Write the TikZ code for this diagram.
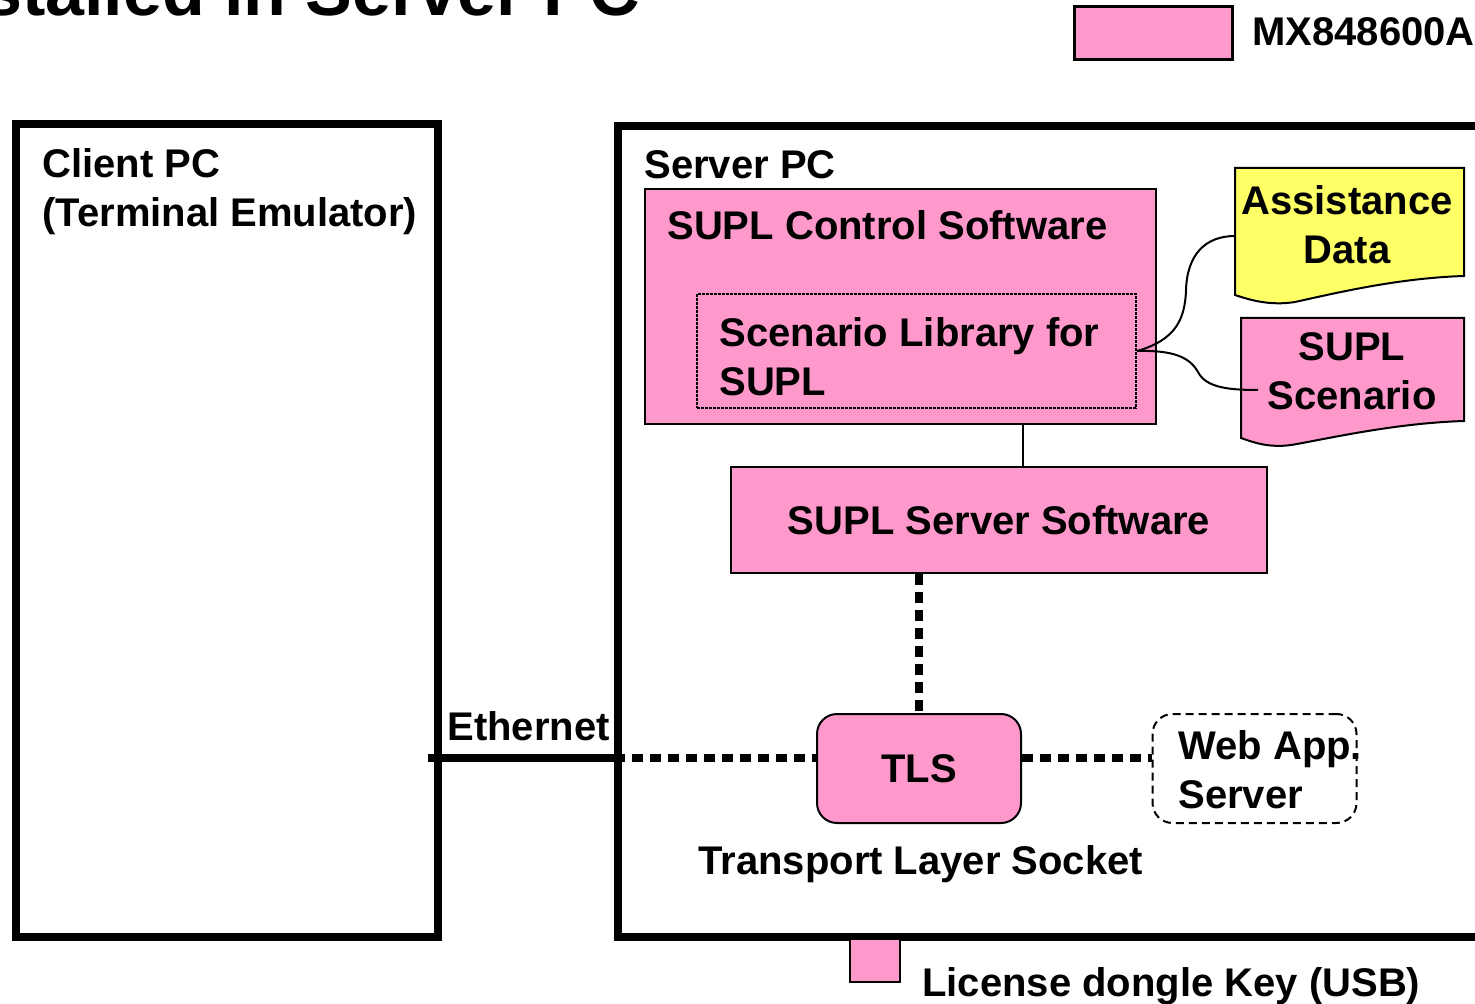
\documentclass[tikz,border=0pt]{standalone}
\usepackage{fontspec}
\setmainfont{Liberation Sans}
\usetikzlibrary{positioning}
\definecolor{softpink}{HTML}{FF99CC}
\definecolor{softyellow}{HTML}{FFFF66}

\begin{document}
\begin{tikzpicture}[x=0.5pt,y=-0.5pt,
  txt/.style={inner sep=0pt, font=\fontsize{20}{24.5}\selectfont\bfseries},
  pinkbox/.style={draw, line width=1pt, fill=softpink, inner sep=0pt},
  pcbox/.style={draw, line width=4pt, inner sep=0pt},
  bigdots/.style={line width=4pt, dash pattern=on 5.5pt off 3.5pt},
  thinline/.style={line width=1pt}]

\useasboundingbox (0,0) rectangle (1475,1004);
\clip (0,0) rectangle (1475,1004);

% titre coupe en haut
\node[inner sep=0pt, anchor=base east, font=\fontsize{35}{40}\selectfont\bfseries] (title) at (641,16) {stalled in Server PC};

% legende
\node[pinkbox, line width=1.5pt, minimum width=79pt, minimum height=26.5pt] (legend) at (1153,33.5) {};
\node[txt, anchor=base west] (legendtxt) at (1252,46) {MX848600A};

% les deux PC
\node[pcbox, minimum width=211pt, minimum height=406.5pt] (client) at (227,530.5) {};
\node[txt, anchor=north west, align=left] (clienttxt) at (42,148) {Client PC\\(Terminal Emulator)};
\node[pcbox, minimum width=541pt, minimum height=405.5pt] (server) at (1159,531.5) {};
\node[txt, anchor=base west] (servertxt) at (644,179) {Server PC};

% logiciels
\node[pinkbox, minimum width=255.5pt, minimum height=117.5pt] (ctrl) at (900.5,306.5) {};
\node[txt, anchor=base west] (ctrltxt) at (667,240) {SUPL Control Software};
\node[draw, line width=1.2pt, dash pattern=on 1.5pt off 0.5pt, inner sep=0pt,
      minimum width=219.5pt, minimum height=57pt] (scnlib) at (916.5,351) {};
\node[txt, anchor=north west, align=left] (scnlibtxt) at (719,317) {Scenario Library for\\SUPL};
\node[pinkbox, txt, draw, minimum width=268pt, minimum height=53pt] (srv) at (999,520) {SUPL Server Software};

% documents
\draw[thinline, fill=softyellow] (1235,168) -- (1464,168) -- (1464,276)
  .. controls (1400,278) and (1340,292) .. (1295,302)
  .. controls (1270,306) and (1250,300) .. (1235,295) -- cycle;
\node[txt, align=center] (assist) at (1347,225) {Assistance\\Data};
\draw[thinline, fill=softpink] (1241,318) -- (1464,318) -- (1464,421)
  .. controls (1400,423) and (1340,436) .. (1297,444)
  .. controls (1272,449) and (1255,443) .. (1241,438) -- cycle;
\node[txt, align=center] (scen) at (1352,371) {SUPL\\Scenario};
\coordinate (assistIn) at (1235,236);
\coordinate (scenIn) at (1258,390);
\draw[thinline] (scnlib.east) .. controls (1175,340) and (1185,320) .. (1186,290)
  .. controls (1187,255) and (1205,236) .. (assistIn);
\draw[thinline] (scnlib.east) .. controls (1175,350) and (1190,358) .. (1198,372)
  .. controls (1206,388) and (1230,390) .. (scenIn);

% liaison controle - serveur
\coordinate (link) at (1023,0);
\draw[thinline] (ctrl.south -| link) -- (srv.north -| link);

% TLS et serveur web
\node[pinkbox, txt, draw, rounded corners=10pt, minimum width=102pt, minimum height=54.5pt] (tls) at (919,768.5) {TLS};
\node[draw, line width=1pt, dash pattern=on 4pt off 2.5pt, rounded corners=10pt,
      minimum width=102pt, minimum height=54.5pt] (web) at (1254.5,768.5) {};
\node[txt, anchor=west, align=left] (webtxt) at (1178,769.5) {Web App.\\Server};
\draw[bigdots] (tls.north |- srv.south) -- (tls.north);

% ethernet
\coordinate (lan) at (428,758);
\draw[line width=4pt] (lan) -- (lan -| server.west);
\draw[bigdots] (lan -| server.west) -- (lan -| tls.west);
\draw[bigdots] (lan -| tls.east) -- (lan -| web.west);
\node[txt, anchor=base west] (ethtxt) at (447,740) {Ethernet};
\node[txt, anchor=base west] (socktxt) at (698,874) {Transport Layer Socket};

% cle USB
\node[pinkbox, minimum width=25pt, minimum height=21.5pt] (dongle) at (875,960.5) {};
\node[txt, anchor=base west] (dongletxt) at (922,996) {License dongle Key (USB)};
\end{tikzpicture}
\end{document}
